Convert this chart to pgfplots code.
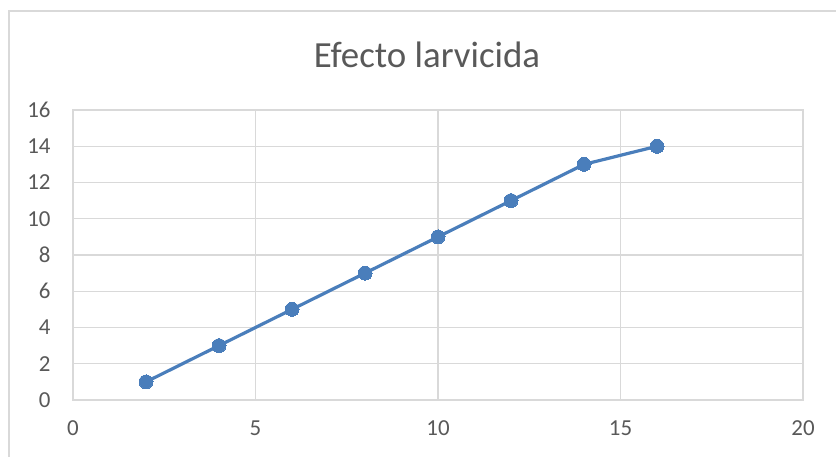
\documentclass[border=0pt]{standalone}
\usepackage{pgfplots}
\pgfplotsset{compat=1.18}
\usepackage{fontspec}
\setmainfont{Carlito}
\definecolor{gridc}{HTML}{D9D9D9}
\definecolor{txtc}{HTML}{595959}
\definecolor{serc}{HTML}{4A7EBB}
\begin{document}
\begin{tikzpicture}[x=1bp,y=1bp]
\useasboundingbox (0,0) rectangle (836,-457);
\fill[white] (0,0) rectangle (836,-457);
\draw[gridc,line width=1.5bp] (9,-11) rectangle (846,-470);
\node[text=txtc,font=\fontsize{37}{44}\selectfont] at (427,-55) {Efecto larvicida};
\begin{axis}[
  at={(73bp,-400bp)}, anchor=south west,
  width=730bp, height=290bp, scale only axis,
  xmin=0, xmax=20, ymin=0, ymax=16,
  xtick={0,5,10,15,20}, ytick={0,2,...,16},
  grid=major,
  grid style={gridc,line width=1.2bp},
  axis line style={gridc,line width=1.2bp},
  major tick length=0pt,
  tick label style={text=txtc,font=\fontsize{23}{27}\selectfont},
  /pgf/number format/assume math mode=true,
  yticklabel style={xshift=-19bp},
  xticklabel style={yshift=-17bp},
]
\addplot[serc, line width=3.2bp, mark=*, mark size=7bp, mark options={fill=serc,draw=serc,line width=0pt}]
coordinates {(2,1) (4,3) (6,5) (8,7) (10,9) (12,11) (14,13) (16,14)};
\end{axis}
\end{tikzpicture}
\end{document}
